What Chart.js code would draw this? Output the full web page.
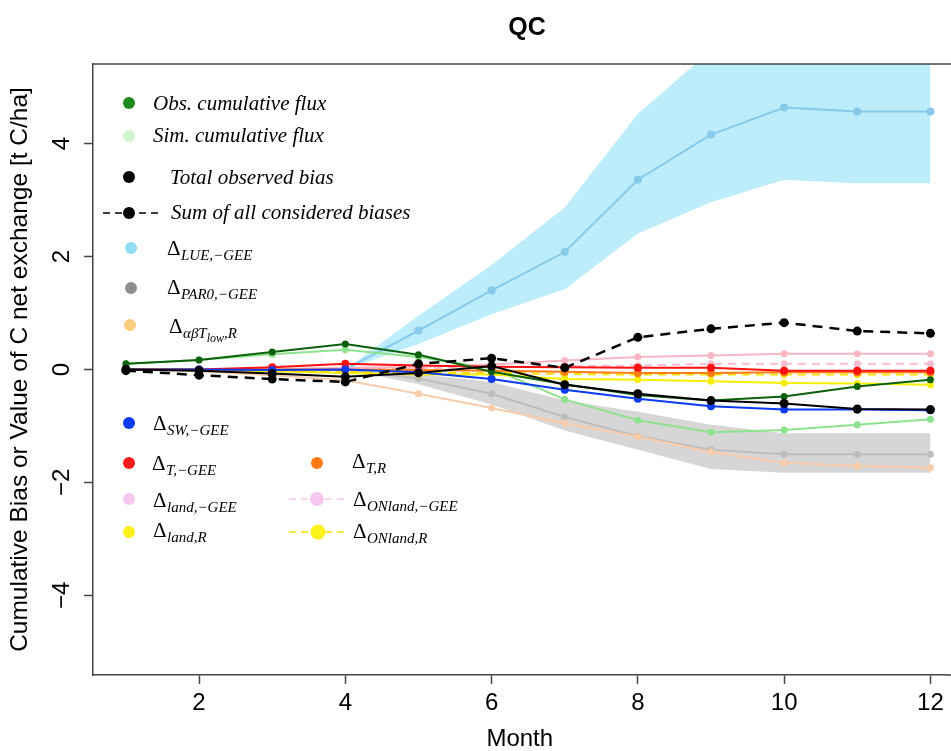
<!DOCTYPE html>
<html>
<head>
<meta charset="utf-8">
<style>
  html, body { margin: 0; padding: 0; background: #ffffff; overflow: hidden; }
  canvas { display: block; }
</style>
<script src="https://cdn.jsdelivr.net/npm/chart.js@4/dist/chart.umd.min.js"></script>
</head>
<body>
<canvas id="chart" width="951" height="751"></canvas>
<script>
// ---- data: cumulative monthly values, t C/ha ----
const months = [1, 2, 3, 4, 5, 6, 7, 8, 9, 10, 11, 12];

const obsFlux  = [0.10, 0.17, 0.31, 0.45, 0.26, -0.04, -0.26, -0.45, -0.55, -0.48, -0.30, -0.18];
const simFlux  = [0.10, 0.17, 0.27, 0.35, 0.22, 0.02, -0.53, -0.90, -1.11, -1.07, -0.98, -0.88];
const totalBias = [0.00, -0.02, -0.07, -0.13, -0.06, 0.06, -0.27, -0.43, -0.55, -0.60, -0.70, -0.71];
const sumBiases = [-0.02, -0.10, -0.17, -0.22, 0.10, 0.20, 0.03, 0.57, 0.72, 0.83, 0.68, 0.64];

const lueGee      = [0, 0, 0, 0, 0.69, 1.40, 2.08, 3.36, 4.16, 4.64, 4.57, 4.57];
const lueGeeUpper = [null, null, null, 0, 0.95, 1.85, 2.87, 4.53, 5.65, 6.00, 6.00, 6.00];
const lueGeeLower = [null, null, null, 0, 0.45, 0.98, 1.42, 2.41, 2.96, 3.36, 3.30, 3.30];

const par0Gee      = [0, 0, 0, 0, -0.16, -0.43, -0.84, -1.18, -1.42, -1.50, -1.50, -1.50];
const par0GeeUpper = [null, null, null, 0, -0.08, -0.22, -0.55, -0.75, -0.98, -1.13, -1.13, -1.13];
const par0GeeLower = [null, null, null, 0, -0.26, -0.62, -1.08, -1.42, -1.76, -1.83, -1.83, -1.83];

const abTlowR    = [0, -0.03, -0.10, -0.19, -0.43, -0.68, -0.95, -1.19, -1.46, -1.65, -1.71, -1.74];
const swGee      = [0, 0, -0.01, 0.00, -0.05, -0.17, -0.36, -0.52, -0.65, -0.71, -0.71, -0.72];
const tGee       = [0, 0, 0.04, 0.10, 0.07, 0.05, 0.04, 0.03, 0.03, -0.02, -0.02, -0.02];
const tR         = [0, 0, 0, 0, -0.01, -0.02, -0.04, -0.06, -0.06, -0.05, -0.05, -0.05];
const landGee    = [0, 0, 0.01, 0.03, 0.05, 0.09, 0.16, 0.22, 0.25, 0.28, 0.28, 0.28];
const onLandGee  = [0, 0, 0, 0.01, 0.02, 0.04, 0.06, 0.07, 0.10, 0.10, 0.10, 0.10];
const landR      = [0, 0, -0.03, -0.06, -0.09, -0.09, -0.17, -0.18, -0.21, -0.24, -0.25, -0.27];
const onLandR    = [0, 0, -0.02, -0.04, -0.06, -0.06, -0.08, -0.09, -0.09, -0.09, -0.09, -0.09];

const xTicks = [2, 4, 6, 8, 10, 12];
const yTicks = [-4, -2, 0, 2, 4];

const titleText = 'QC';
const xTitle = 'Month';
const yTitle = 'Cumulative Bias or Value of C net exchange [t C/ha]';

// ---- helpers ----
function pts(vals) {
  return months.map((m, i) => ({ x: m, y: vals[i] })).filter(p => p.y !== null);
}

function lineSet(vals, color, opts = {}) {
  return Object.assign({
    data: pts(vals),
    borderColor: color,
    backgroundColor: color,
    pointBackgroundColor: color,
    pointBorderWidth: 0,
    pointRadius: 3.5,
    borderWidth: 2,
    fill: false,
    tension: 0
  }, opts);
}

function bandSet(vals, color, fill, order) {
  return {
    data: pts(vals),
    borderColor: 'rgba(0,0,0,0)',
    backgroundColor: color,
    borderWidth: 0,
    pointRadius: 0,
    fill: fill,
    tension: 0,
    order: order
  };
}

const datasets = [
  bandSet(lueGeeUpper, '#BDEDFB', '+1', 200),
  bandSet(lueGeeLower, '#BDEDFB', false, 199),
  bandSet(par0GeeUpper, '#D6D6D6', '+1', 198),
  bandSet(par0GeeLower, '#D6D6D6', false, 197),
  lineSet(lueGee, '#86C9E8', { order: 60, pointRadius: 4 }),
  lineSet(par0Gee, '#BDBDBD', { order: 59 }),
  lineSet(abTlowR, '#F9CBA8', { order: 58 }),
  lineSet(simFlux, '#8DE38D', { order: 57 }),
  lineSet(landGee, '#F9B7C4', { order: 56 }),
  lineSet(onLandGee, '#F7BCD0', { order: 55, borderDash: [8, 6] }),
  lineSet(landR, '#F6F000', { order: 54 }),
  lineSet(onLandR, '#F8E000', { order: 53, borderDash: [8, 6] }),
  lineSet(tR, '#FF7B13', { order: 52, pointRadius: 4 }),
  lineSet(tGee, '#FF1010', { order: 51, pointRadius: 4 }),
  lineSet(swGee, '#0B3CF5', { order: 50, pointRadius: 4 }),
  lineSet(obsFlux, '#0B610B', { order: 49 }),
  lineSet(totalBias, '#000000', { order: 48, pointRadius: 4.5 }),
  lineSet(sumBiases, '#000000', { order: 47, pointRadius: 4.5, borderWidth: 2.5, borderDash: [10, 7] })
];

// ---- legend entries (drawn by the plugin below) ----
const SERIF = '"Liberation Serif", "Times New Roman", serif';
const SANS = '"Liberation Sans", Arial, Helvetica, sans-serif';

const legendEntries = [
  { color: '#1C8A1C', cx: 129, cy: 103, r: 6, text: 'Obs. cumulative flux', tx: 153, ty: 110 },
  { color: '#CFF5CF', cx: 129, cy: 136, r: 6, text: 'Sim. cumulative flux', tx: 153, ty: 142 },
  { color: '#000000', cx: 129, cy: 177, r: 6, text: 'Total observed bias', tx: 170, ty: 184 },
  { color: '#000000', cx: 129, cy: 213, r: 6, dash: [103, 160], dashColor: '#000000', text: 'Sum of all considered biases', tx: 171, ty: 219 },
  { color: '#93DDF7', cx: 131, cy: 248, r: 6, sub: [['LUE,\u2212GEE', 0]], tx: 167, ty: 255 },
  { color: '#8E8E8E', cx: 131, cy: 288, r: 6, sub: [['PAR0,\u2212GEE', 0]], tx: 167, ty: 294 },
  { color: '#FBCB7E', cx: 130, cy: 325, r: 6, sub: [['\u03B1\u03B2T', 0], ['low', 1], [',R', 0]], tx: 169, ty: 333 },
  { color: '#0B3CF5', cx: 129, cy: 423, r: 6, sub: [['SW,\u2212GEE', 0]], tx: 153, ty: 430 },
  { color: '#FF1A1A', cx: 129, cy: 463, r: 6, sub: [['T,\u2212GEE', 0]], tx: 152, ty: 470 },
  { color: '#F7C6EE', cx: 129, cy: 499, r: 6, sub: [['land,\u2212GEE', 0]], tx: 153, ty: 507 },
  { color: '#FAF21A', cx: 129, cy: 532, r: 6, sub: [['land,R', 0]], tx: 153, ty: 537 },
  { color: '#FF7A14', cx: 317, cy: 463, r: 6, sub: [['T,R', 0]], tx: 352, ty: 468 },
  { color: '#F7C6EE', cx: 317, cy: 499, r: 7, dash: [289, 347], dashColor: '#F7C6EE', sub: [['ONland,\u2212GEE', 0]], tx: 353, ty: 506 },
  { color: '#FAF21A', cx: 318, cy: 532, r: 7.5, dash: [289, 347], dashColor: '#F5E400', sub: [['ONland,R', 0]], tx: 353, ty: 538 }
];

const legendPlugin = {
  id: 'mathLegend',
  afterDraw(chart) {
    const ctx = chart.ctx;
    ctx.save();
    legendEntries.forEach(e => {
      if (e.dash) {
        ctx.beginPath();
        ctx.setLineDash([7, 5]);
        ctx.lineWidth = 1.6;
        ctx.strokeStyle = e.dashColor;
        ctx.moveTo(e.dash[0], e.cy);
        ctx.lineTo(e.dash[1], e.cy);
        ctx.stroke();
        ctx.setLineDash([]);
      }
      ctx.beginPath();
      ctx.fillStyle = e.color;
      ctx.arc(e.cx, e.cy, e.r, 0, Math.PI * 2);
      ctx.fill();

      ctx.fillStyle = '#000000';
      ctx.textAlign = 'left';
      ctx.textBaseline = 'alphabetic';
      if (e.text) {
        ctx.font = 'italic 21px ' + SERIF;
        ctx.fillText(e.text, e.tx, e.ty);
      } else {
        ctx.font = '21px ' + SERIF;
        ctx.fillText('\u0394', e.tx, e.ty);
        let x = e.tx + ctx.measureText('\u0394').width + 0.5;
        e.sub.forEach(([t, level]) => {
          const size = level ? 12 : 15;
          const dy = level ? 9 : 5;
          ctx.font = 'italic ' + size + 'px ' + SERIF;
          ctx.fillText(t, x, e.ty + dy);
          x += ctx.measureText(t).width;
        });
      }
    });
    ctx.restore();
  }
};

// top edge of the plot frame and the main title
const framePlugin = {
  id: 'frameAndTitle',
  afterDraw(chart) {
    const { ctx, chartArea } = chart;
    ctx.save();
    ctx.strokeStyle = '#444444';
    ctx.lineWidth = 1.5;
    ctx.beginPath();
    ctx.moveTo(chartArea.left, chartArea.top);
    ctx.lineTo(chart.width, chartArea.top);
    ctx.stroke();
    ctx.beginPath();
    ctx.moveTo(chartArea.right, chartArea.bottom);
    ctx.lineTo(chart.width, chartArea.bottom);
    ctx.stroke();
    ctx.fillStyle = '#000000';
    ctx.font = 'bold 25px ' + SANS;
    ctx.textAlign = 'center';
    ctx.textBaseline = 'middle';
    ctx.fillText(titleText, 527, 28);
    ctx.restore();
  }
};

const minusFmt = v => (v < 0 ? '\u2212' + Math.abs(v) : String(v));

new Chart(document.getElementById('chart').getContext('2d'), {
  type: 'line',
  data: { datasets },
  options: {
    responsive: false,
    animation: false,
    events: [],
    layout: { padding: { top: 64, right: 0, bottom: 0, left: 0 } },
    plugins: {
      legend: { display: false },
      tooltip: { enabled: false },
      title: { display: false },
      filler: { propagate: false }
    },
    scales: {
      x: {
        type: 'linear',
        min: 0.55,
        max: 12.22,
        afterFit(scale) { scale.height = 76; },
        afterBuildTicks(scale) { scale.ticks = xTicks.map(v => ({ value: v })); },
        grid: { display: true, drawOnChartArea: false, drawTicks: true, tickLength: 9, tickColor: '#444444', tickWidth: 1.5 },
        border: { display: true, color: '#444444', width: 1.5 },
        ticks: { font: { family: SANS, size: 24 }, color: '#000000', padding: 5, maxRotation: 0, autoSkip: false, callback: minusFmt },
        title: { display: true, text: xTitle, color: '#000000', font: { family: SANS, size: 24, lineHeight: 1 }, padding: { top: 0, bottom: 0 } }
      },
      y: {
        type: 'linear',
        min: -5.41,
        max: 5.41,
        afterFit(scale) { scale.width = 93; },
        afterBuildTicks(scale) { scale.ticks = yTicks.map(v => ({ value: v })); },
        grid: { display: true, drawOnChartArea: false, drawTicks: true, tickLength: 9, tickColor: '#444444', tickWidth: 1.5 },
        border: { display: true, color: '#444444', width: 1.5 },
        ticks: { font: { family: SANS, size: 24 }, color: '#000000', padding: 8, minRotation: 90, maxRotation: 90, crossAlign: 'center', autoSkip: false, callback: minusFmt },
        title: { display: true, text: yTitle, color: '#000000', font: { family: SANS, size: 24.5, lineHeight: 1 }, padding: { top: 8, bottom: 0 } }
      }
    }
  },
  plugins: [framePlugin, legendPlugin]
});
</script>
</body>
</html>
